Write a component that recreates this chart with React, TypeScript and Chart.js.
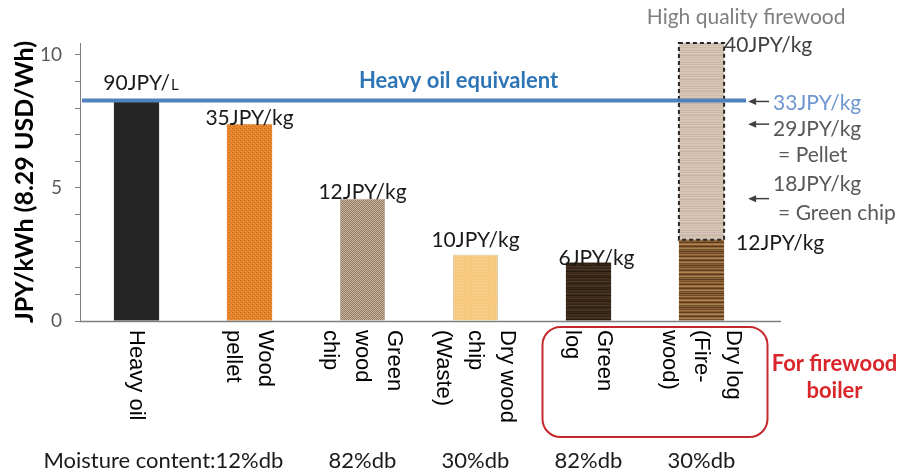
import React, { useEffect, useRef } from 'react';
import { Chart, registerables } from 'chart.js';

Chart.register(...registerables);

// ---------- data ----------
const categoryLines: string[][] = [
  ['Heavy oil'],
  ['Wood', 'pellet'],
  ['Green', 'wood', 'chip'],
  ['Dry wood', 'chip', '(Waste)'],
  ['Green', 'log'],
  ['Dry log', '(Fire-', 'wood)'],
];
const costPerKWh = [8.29, 7.4, 4.6, 2.5, 2.2, 3.05];
const highQualityExtra = [null, null, null, null, null, 7.4];
const fuelPrices = ['90JPY/', '35JPY/kg', '12JPY/kg', '10JPY/kg', '6JPY/kg', '12JPY/kg'];
const heavyOilUnit = 'L';
const moistureTitle = 'Moisture content:';
const moisture = ['', '12%db', '82%db', '30%db', '82%db', '30%db'];
const heavyOilEquivalent = 8.29;
const heavyOilLabel = 'Heavy oil equivalent';
const yMax = 10.45;
const yTitle = 'JPY/kWh (8.29 USD/Wh)';
const highQualityTitle = 'High quality firewood';
const highQualityPrice = '40JPY/kg';
const equivalents = [
  { text: '33JPY/kg', note: '', ref: 'oil' },
  { text: '29JPY/kg', note: '= Pellet', ref: 1 },
  { text: '18JPY/kg', note: '= Green chip', ref: 2 },
];
const boilerLines = ['For firewood', 'boiler'];

// ---------- styles ----------
const FONT = 'Lato, "Open Sans", sans-serif';
const LABEL_FONT = '"Liberation Sans", Arial, sans-serif';
const labelDy = [-10, 1, 0, -7, 3, 10];
const labelDx = [4, 0, 0, 0, 8, 0];

function makePattern(ctx: CanvasRenderingContext2D, w: number, h: number, draw: (g: CanvasRenderingContext2D) => void) {
  const c = document.createElement('canvas');
  c.width = w;
  c.height = h;
  const g = c.getContext('2d')!;
  draw(g);
  return ctx.createPattern(c, 'repeat')!;
}

function stripes(ctx: CanvasRenderingContext2D, rows: string[]) {
  return makePattern(ctx, 8, rows.length, (g) => {
    rows.forEach((c, i) => {
      g.fillStyle = c;
      g.fillRect(0, i, 8, 1);
    });
  });
}

export default function App() {
  const ref = useRef<HTMLCanvasElement>(null);

  useEffect(() => {
    const canvas = ref.current!;
    const ctx0 = canvas.getContext('2d')!;

    const pellet = makePattern(ctx0, 4, 4, (g) => {
      g.fillStyle = '#e4832b';
      g.fillRect(0, 0, 4, 4);
      g.fillStyle = '#cc6c1a';
      g.fillRect(0, 0, 1, 1);
      g.fillRect(2, 2, 1, 1);
      g.fillStyle = '#f09a48';
      g.fillRect(1, 3, 1, 1);
      g.fillRect(3, 1, 1, 1);
    });
    const greenChip = makePattern(ctx0, 2, 2, (g) => {
      g.fillStyle = '#957a64';
      g.fillRect(0, 0, 2, 2);
      g.fillStyle = '#c9b6a2';
      g.fillRect(0, 0, 1, 1);
      g.fillRect(1, 1, 1, 1);
    });
    const dryChip = makePattern(ctx0, 3, 3, (g) => {
      g.fillStyle = '#f8c97d';
      g.fillRect(0, 0, 3, 3);
      g.fillStyle = '#f3d8a4';
      g.fillRect(1, 1, 1, 1);
    });
    const greenLog = stripes(ctx0, ['#3b2918', '#2c1d10', '#4a3424', '#3d2a1b', '#33231a', '#503a28', '#3a2818', '#2a1b10', '#45301f', '#3a2818', '#4d3727', '#30200f']);
    const dryLog = stripes(ctx0, ['#8c6238', '#6e4a26', '#a07444', '#84592f', '#5e3d1d', '#9a6e40', '#b08450', '#7a5430', '#5a3a1a', '#94683a', '#a8804c', '#70502c', '#8a6036', '#5c3c1c']);
    const upperLog = stripes(ctx0, ['#d9c7b5', '#d3c0ae', '#cdb9aa', '#d8c5b2', '#c8b6ac', '#dccab8', '#d0bdaa', '#c6b4ab', '#d6c4b3', '#cfbcab', '#dbc9b6', '#cbb8ad']);

    const text = (ctx: CanvasRenderingContext2D, s: string, x: number, y: number, font: string, color: string, align: CanvasTextAlign = 'center') => {
      ctx.font = font;
      ctx.fillStyle = color;
      ctx.textAlign = align;
      ctx.textBaseline = 'alphabetic';
      ctx.fillText(s, x, y);
    };
    const arrow = (ctx: CanvasRenderingContext2D, tip: number, tail: number, y: number) => {
      ctx.strokeStyle = '#404040';
      ctx.fillStyle = '#404040';
      ctx.lineWidth = 1.5;
      ctx.beginPath();
      ctx.moveTo(tail, y);
      ctx.lineTo(tip + 5, y);
      ctx.stroke();
      ctx.beginPath();
      ctx.moveTo(tip, y);
      ctx.lineTo(tip + 8, y - 3.5);
      ctx.lineTo(tip + 8, y + 3.5);
      ctx.closePath();
      ctx.fill();
    };

    const overlay = {
      id: 'overlay',
      afterDatasetsDraw(chart: any) {
        const { ctx, chartArea, scales } = chart;
        const y = scales.y;
        const m0 = chart.getDatasetMeta(0).data;
        const up = chart.getDatasetMeta(1).data[5].getProps(['x', 'y', 'base', 'width'], true);
        ctx.save();

        // dashed outline for high quality firewood
        ctx.setLineDash([4, 3]);
        ctx.strokeStyle = '#262626';
        ctx.lineWidth = 2;
        ctx.strokeRect(up.x - up.width / 2, up.y, up.width, up.base - up.y);
        ctx.setLineDash([]);

        const barRight = up.x + up.width / 2;

        // x axis baseline
        ctx.strokeStyle = '#7f7f7f';
        ctx.lineWidth = 1.5;
        ctx.beginPath();
        ctx.moveTo(chartArea.left, chartArea.bottom + 0.5);
        ctx.lineTo(barRight + 57, chartArea.bottom + 0.5);
        ctx.stroke();

        // heavy oil line
        const hy = y.getPixelForValue(heavyOilEquivalent);
        ctx.strokeStyle = '#4f81bd';
        ctx.lineWidth = 4;
        ctx.beginPath();
        ctx.moveTo(chartArea.left + 2, hy);
        ctx.lineTo(barRight + 22, hy);
        ctx.stroke();
        text(ctx, heavyOilLabel, scales.x.getPixelForValue(2.85), hy - 12, `bold 22px ${FONT}`, '#2e75b6');

        // price labels on bars
        const vf = `21px ${FONT}`;
        for (let i = 0; i < 5; i++) {
          const b = m0[i];
          const bx = b.x + labelDx[i];
          const by = b.y + labelDy[i];
          if (i === 0) {
            ctx.font = vf;
            const w1 = ctx.measureText(fuelPrices[0]).width;
            ctx.font = `15px ${FONT}`;
            const w2 = ctx.measureText(heavyOilUnit).width;
            const start = bx - (w1 + w2) / 2;
            text(ctx, fuelPrices[0], start, by, vf, '#1a1a1a', 'left');
            text(ctx, heavyOilUnit, start + w1 + 1, by, `15px ${FONT}`, '#1a1a1a', 'left');
          } else {
            text(ctx, fuelPrices[i], bx, by, vf, '#1a1a1a');
          }
        }
        const lower = m0[5];
        text(ctx, fuelPrices[5], barRight + 12, lower.y + labelDy[5], vf, '#1a1a1a', 'left');
        text(ctx, highQualityPrice, barRight, up.y + 9, vf, '#404040', 'left');
        text(ctx, highQualityTitle, barRight + 22, chartArea.top - 19, vf, '#7f7f7f');

        // equivalents with arrows
        const tip = barRight + 24;
        const tail = barRight + 45;
        const tx = barRight + 49;
        equivalents.forEach((e) => {
          const ay = e.ref === 'oil' ? hy + 1 : m0[e.ref as number].y;
          arrow(ctx, tip, tail, ay);
          if (e.ref === 'oil') {
            text(ctx, e.text, tx, ay + 9, vf, '#6f96cf', 'left');
          } else if (e.ref === 1) {
            text(ctx, e.text, tx, ay + 12, vf, '#595959', 'left');
            text(ctx, e.note, tx + 5, ay + 38, vf, '#595959', 'left');
          } else {
            text(ctx, e.text, tx, ay - 8, vf, '#595959', 'left');
            text(ctx, e.note, tx + 5, ay + 21, vf, '#595959', 'left');
          }
        });

        // category labels, rotated
        ctx.font = `22px ${LABEL_FONT}`;
        ctx.fillStyle = '#000';
        ctx.textAlign = 'left';
        ctx.textBaseline = 'middle';
        categoryLines.forEach((lines, i) => {
          const cx = m0[i].x;
          const n = lines.length;
          lines.forEach((ln, j) => {
            const colX = cx + ((n - 1) / 2 - j) * 32;
            ctx.save();
            ctx.translate(colX, chartArea.bottom + 9);
            ctx.rotate(Math.PI / 2);
            ctx.fillText(ln, 0, 0);
            ctx.restore();
          });
        });

        // firewood boiler box
        const boxL = m0[4].x - 46;
        const boxR = m0[5].x + 66;
        ctx.strokeStyle = '#c5282c';
        ctx.lineWidth = 2;
        ctx.beginPath();
        (ctx as any).roundRect(boxL, chartArea.bottom + 6, boxR - boxL, 110, 18);
        ctx.stroke();
        text(ctx, boilerLines[0], boxR + 67, chartArea.bottom + 50, `bold 22px ${FONT}`, '#d9262b');
        text(ctx, boilerLines[1], boxR + 67, chartArea.bottom + 77, `bold 22px ${FONT}`, '#d9262b');

        // moisture row
        const my = chartArea.bottom + 147;
        const mf = `22px ${FONT}`;
        for (let i = 1; i < moisture.length; i++) {
          text(ctx, moisture[i], m0[i].x, my, mf, '#1a1a1a');
        }
        ctx.font = mf;
        const w = ctx.measureText(moisture[1]).width;
        text(ctx, moistureTitle, m0[1].x - w / 2, my, mf, '#1a1a1a', 'right');

        ctx.restore();
      },
    };

    const chart = new Chart(canvas, {
      type: 'bar',
      data: {
        labels: categoryLines.map((l) => l.join(' ')),
        datasets: [
          {
            data: costPerKWh,
            backgroundColor: ['#262626', pellet, greenChip, dryChip, greenLog, dryLog] as any,
            borderColor: ['#262626', '#d9a070', '#b8a898', '#d8c8a8', '#2a1c10', '#6a4a28'],
            borderWidth: [0, 0, 1, 1, 0, 0],
            barPercentage: 0.4,
            categoryPercentage: 1,
          },
          {
            data: highQualityExtra as any,
            backgroundColor: upperLog as any,
            borderWidth: 0,
            barPercentage: 0.4,
            categoryPercentage: 1,
          },
        ],
      },
      options: {
        responsive: false,
        animation: false,
        layout: { padding: { top: 43, right: 142, left: 0, bottom: 0 } },
        plugins: { legend: { display: false }, tooltip: { enabled: false } },
        scales: {
          x: {
            stacked: true,
            grid: { display: false },
            border: { display: false },
            ticks: { display: false },
            afterFit: (s: any) => {
              s.height = 152;
            },
          },
          y: {
            stacked: true,
            min: 0,
            max: yMax,
            grid: { drawOnChartArea: false, tickLength: 5, color: '#7f7f7f' },
            border: { color: '#7f7f7f', width: 1 },
            ticks: {
              stepSize: 1,
              includeBounds: false,
              padding: 13,
              color: '#595959',
              font: { family: FONT, size: 19 },
              callback: (v: any) => (Number(v) % 5 === 0 ? String(v) : ''),
            },
            title: {
              display: true,
              text: yTitle,
              color: '#000',
              font: { family: FONT, size: 25, weight: 'bold' },
              padding: { top: 10, bottom: 0 },
            },
            afterFit: (s: any) => {
              s.width = 80;
            },
          },
        },
      },
      plugins: [overlay],
    });
    return () => chart.destroy();
  }, []);

  return (
    <div style={{ position: 'absolute', left: 0, top: 0, width: 900, height: 473, background: '#fff' }}>
      <canvas ref={ref} width={900} height={473} />
    </div>
  );
}
